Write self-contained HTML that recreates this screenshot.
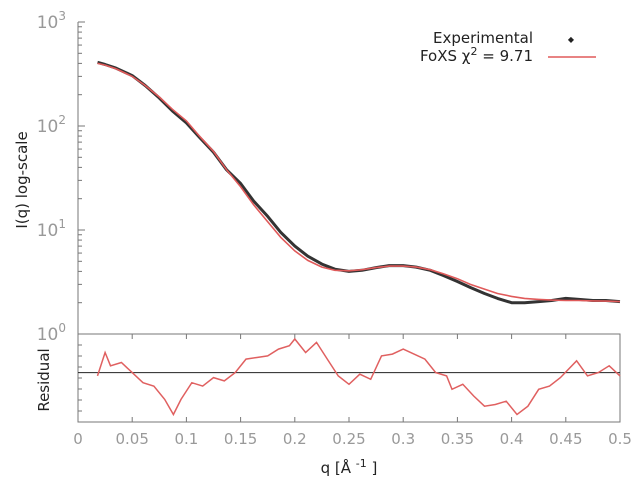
<!DOCTYPE html>
<html><head><meta charset="utf-8"><style>
body{margin:0;background:#fff;}
svg{display:block;font-family:"DejaVu Sans","Liberation Sans",sans-serif;}
</style></head><body>
<svg id="chart" width="640" height="480" viewBox="0 0 640 480" xmlns="http://www.w3.org/2000/svg">
<g id="axes"></g>
<g id="series"></g>
<text transform="translate(27,180) rotate(-90)" text-anchor="middle" font-size="15" fill="#222">I(q) log-scale</text>
<text transform="translate(49,380) rotate(-90)" text-anchor="middle" font-size="15" fill="#222">Residual</text>
<text x="349" y="473" text-anchor="middle" font-size="15" fill="#222">q [Å <tspan font-size="11" dy="-6">-1</tspan><tspan dy="6"> ]</tspan></text>
<g>
<text x="533" y="43" text-anchor="end" font-size="15" fill="#222">Experimental</text>
<text x="571" y="42" text-anchor="middle" font-size="8" fill="#222">◆</text>
<text x="533" y="61" text-anchor="end" font-size="15" fill="#222">FoXS χ<tspan font-size="11" dy="-6">2</tspan><tspan dy="6"> = 9.71</tspan></text>
<line x1="548" y1="57" x2="596" y2="57" stroke="#e05a5a" stroke-width="1.5"/>
</g>
</svg>
<script>
const qExp=[0.018,0.025,0.035,0.05,0.062,0.075,0.087,0.1,0.112,0.125,0.137,0.15,0.162,0.175,0.187,0.2,0.212,0.225,0.237,0.25,0.262,0.275,0.287,0.3,0.312,0.325,0.337,0.35,0.362,0.375,0.387,0.4,0.412,0.425,0.437,0.45,0.462,0.475,0.487,0.5];
const iExp=[410,390,360,305,245,186,140,107,78,56,38,28,19,13.5,9.5,7.0,5.6,4.7,4.2,4.0,4.1,4.35,4.55,4.55,4.4,4.1,3.65,3.2,2.8,2.45,2.2,2.0,2.0,2.05,2.1,2.2,2.15,2.1,2.1,2.05];
const qFit=[0.018,0.025,0.035,0.05,0.062,0.075,0.087,0.1,0.112,0.125,0.137,0.15,0.162,0.175,0.187,0.2,0.212,0.225,0.237,0.25,0.262,0.275,0.287,0.3,0.312,0.325,0.337,0.35,0.362,0.375,0.387,0.4,0.412,0.425,0.437,0.45,0.462,0.475,0.487,0.5];
const iFit=[400,385,355,300,245,190,145,112,80,57,38,26,17.5,12,8.5,6.3,5.1,4.4,4.1,4.05,4.15,4.35,4.5,4.5,4.4,4.15,3.8,3.4,3.0,2.7,2.45,2.3,2.2,2.15,2.12,2.1,2.1,2.08,2.07,2.05];
const qRes=[0.018,0.025,0.03,0.04,0.05,0.06,0.07,0.08,0.088,0.095,0.105,0.115,0.125,0.135,0.145,0.155,0.165,0.175,0.185,0.195,0.2,0.21,0.22,0.23,0.24,0.25,0.26,0.27,0.28,0.29,0.3,0.31,0.32,0.33,0.34,0.345,0.355,0.365,0.375,0.385,0.395,0.405,0.415,0.425,0.435,0.445,0.46,0.47,0.48,0.49,0.5];
const res=[-0.23,1.37,0.46,0.69,0,-0.69,-0.92,-1.83,-2.86,-1.83,-0.69,-0.92,-0.34,-0.57,0,0.92,1.03,1.14,1.6,1.83,2.29,1.37,2.06,0.92,-0.23,-0.8,-0.11,-0.46,1.14,1.26,1.6,1.26,0.92,0,-0.23,-1.14,-0.8,-1.6,-2.29,-2.18,-1.95,-2.86,-2.29,-1.14,-0.92,-0.34,0.8,-0.23,0,0.46,-0.23];
const xTicks=[0,0.05,0.1,0.15,0.2,0.25,0.3,0.35,0.4,0.45,0.5];
const yExps=[0,1,2,3];

const NS="http://www.w3.org/2000/svg";
const X0=78,X1=620,YT=22,YB=334,RT=334,RB=422,RMAX=2.63,RMIN=-3.37;
const xs=q=>X0+(q-0)/(0.5)*(X1-X0);
const ys=v=>YB-(Math.log10(v)-0)/3*(YB-YT);
const yr=r=>RT+(RMAX-r)/(RMAX-RMIN)*(RB-RT);
const axes=document.getElementById('axes'),series=document.getElementById('series');
function mk(tag,attrs,parent){const e=document.createElementNS(NS,tag);for(const k in attrs)e.setAttribute(k,attrs[k]);parent.appendChild(e);return e;}
const g='#777';
let e;
e=mk('line',{x1:X0,y1:YT,x2:X0,y2:YB,stroke:g},axes);


e=mk('rect',{x:X0,y:RT,width:X1-X0,height:RB-RT,fill:'none',stroke:g},axes);


yExps.forEach(p=>{
  const y=ys(Math.pow(10,p));
  e=mk('line',{x1:X0,y1:y,x2:X0+7,y2:y,stroke:g},axes);
  
  
  const t=mk('text',{x:X0-12,y:y+6,'text-anchor':'end','font-size':17,fill:'#999'},axes);
  
  
  t.textContent='10';
  const s=mk('tspan',{'font-size':12,dy:-8},t);s.textContent=String(p);
  if(p<3)for(let m=2;m<10;m++){const yy=ys(m*Math.pow(10,p));
    e=mk('line',{x1:X0,y1:yy,x2:X0+4,y2:yy,stroke:g},axes);
    
    }
});
for(let i=1;i<8;i++){const y=RT+i*(RB-RT)/8;
  e=mk('line',{x1:X0,y1:y,x2:X0+4,y2:y,stroke:g},axes);
  
  }
xTicks.forEach(q=>{const x=xs(q);
  e=mk('line',{x1:x,y1:RB,x2:x,y2:RB-5,stroke:g},axes);
  
  
  e=mk('line',{x1:x,y1:RT,x2:x,y2:RT+5,stroke:g},axes);
  
  
  const t=mk('text',{x:x,y:444,'text-anchor':'middle','font-size':15,fill:'#999'},axes);
  
  
  t.textContent=String(q);
});
e=mk('line',{x1:X0,y1:yr(0),x2:X1,y2:yr(0),stroke:'#222','stroke-width':1},axes);


const pts=(qa,va,f)=>qa.map((q,i)=>xs(q).toFixed(1)+','+f(va[i]).toFixed(1)).join(' ');
e=mk('polyline',{points:pts(qExp,iExp,ys),fill:'none',stroke:'#333','stroke-width':3,'stroke-linejoin':'round'},series);


e=mk('polyline',{points:pts(qFit,iFit,ys),fill:'none',stroke:'#e05a5a','stroke-width':1.6},series);


e=mk('polyline',{points:pts(qRes,res,yr),fill:'none',stroke:'#e06060','stroke-width':1.5},series);


</script>
</body></html>
